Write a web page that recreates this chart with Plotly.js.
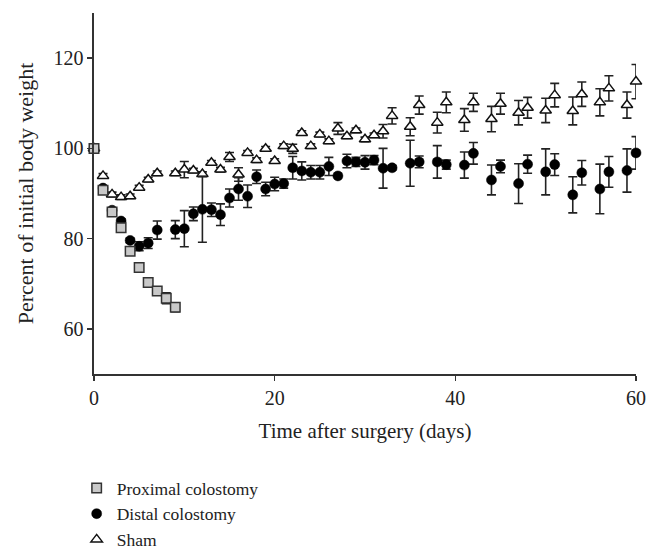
<!DOCTYPE html>
<html>
<head>
<meta charset="utf-8">
<script src="https://cdn.plot.ly/plotly-3.0.1.min.js"></script>
<style>
  html, body { margin: 0; padding: 0; background: #fff; }
  #chart { width: 658px; height: 551px; }
</style>
</head>
<body>
<div id="chart"></div>
<script>
// days after surgery
const proximalDays = [0, 1, 2, 3, 4, 5, 6, 7, 8, 9];
const proximalWeight = [100, 90.7, 85.9, 82.4, 77.2, 73.6, 70.3, 68.4, 66.8, 64.8];
const proximalErr = [0, 0.5, 0.5, 0.5, 0.5, 0.5, 0.5, 0.6, 1.2, 1.0];

const otherDays = [0, 1, 2, 3, 4, 5, 6, 7, 9, 10, 11, 12, 13, 14, 15, 16, 17, 18, 19, 20,
  21, 22, 23, 24, 25, 26, 27, 28, 29, 30, 31, 32, 33, 35, 36, 38, 39, 41, 42, 44,
  45, 47, 48, 50, 51, 53, 54, 56, 57, 59, 60];

const distalWeight = [100, 91.2, 86.3, 83.9, 79.6, 78.3, 79.0, 81.9, 82.0, 82.2, 85.5, 86.5, 86.4, 85.3, 89.0, 91.0, 89.4, 93.7, 91.0, 92.1,
  92.2, 95.7, 95.0, 94.7, 94.7, 96.0, 93.9, 97.2, 97.0, 96.9, 97.4, 95.6, 95.7, 96.7, 97.0, 97.0, 96.4, 96.3, 98.9, 93.0,
  96.0, 92.2, 96.5, 94.8, 96.4, 89.7, 94.6, 91.0, 94.8, 95.1, 99.0];
const distalErr = [0, 0.5, 0.5, 0.5, 0.5, 1.0, 1.2, 2.0, 2.0, 4.0, 1.5, 7.3, 1.5, 2.4, 2.0, 2.5, 2.5, 1.5, 1.5, 1.5,
  1.0, 2.5, 2.0, 1.5, 1.5, 2.0, 0, 1.5, 1.0, 1.5, 1.0, 4.4, 0.5, 5.1, 1.3, 3.6, 1.0, 2.9, 2.4, 3.3,
  1.4, 4.4, 2.0, 5.1, 2.4, 4.0, 2.7, 5.5, 3.4, 4.8, 3.6];

const shamWeight = [100, 93.9, 89.8, 89.2, 89.4, 91.3, 93.1, 94.5, 94.5, 95.3, 95.1, 94.3, 96.8, 95.3, 98.1, 94.2, 99.0, 97.4, 99.9, 97.2,
  100.5, 99.9, 103.4, 100.5, 103.1, 101.6, 104.4, 102.7, 104.0, 102.0, 102.9, 103.8, 107.2, 104.8, 109.6, 105.7, 110.2, 106.3, 110.2, 106.5,
  109.9, 107.9, 109.0, 108.4, 111.8, 108.3, 112.0, 110.2, 113.3, 109.6, 114.8];
const shamErr = [0, 0.5, 0.5, 0.5, 0.5, 0.5, 0.5, 0.5, 0.5, 1.8, 0.5, 0.5, 0.5, 0.5, 1.0, 1.5, 0.5, 0.5, 0.5, 0.5,
  0.5, 1.0, 0.5, 0.5, 0.5, 0.5, 1.3, 0.5, 0.5, 0.5, 0.5, 1.5, 1.8, 2.0, 2.0, 2.3, 2.3, 2.5, 2.0, 2.8,
  2.3, 2.7, 2.3, 2.7, 2.6, 3.1, 2.7, 3.0, 2.8, 2.9, 3.8];

const xTicks = [0, 20, 40, 60];
const yTicks = [60, 80, 100, 120];

const serif = 'Liberation Serif, Times New Roman, serif';

function errBars(arr) {
  return { type: 'data', array: arr, visible: true, color: '#222', thickness: 1.6, width: 4.5 };
}

// sham first so squares end up on top, legend reversed to match
const data = [
  {
    x: otherDays, y: shamWeight, name: 'Sham',
    type: 'scatter', mode: 'markers', cliponaxis: false,
    error_y: errBars(shamErr),
    marker: { symbol: 'triangle-up', size: 10, color: '#fff', line: { color: '#111', width: 1.5 } }
  },
  {
    x: otherDays, y: distalWeight, name: 'Distal colostomy',
    type: 'scatter', mode: 'markers', cliponaxis: false,
    error_y: errBars(distalErr),
    marker: { symbol: 'circle', size: 10, color: '#000', line: { color: '#000', width: 0.5 } }
  },
  {
    x: proximalDays, y: proximalWeight, name: 'Proximal colostomy',
    type: 'scatter', mode: 'markers', cliponaxis: false,
    error_y: errBars(proximalErr),
    marker: { symbol: 'square', size: 9.5, color: '#c9c9c9', line: { color: '#333', width: 1.5 } }
  }
];

const layout = {
  width: 658,
  height: 551,
  margin: { l: 94, r: 22, t: 13, b: 177, autoexpand: false },
  paper_bgcolor: '#fff',
  plot_bgcolor: '#fff',
  font: { family: serif, color: '#222', size: 20 },
  showlegend: true,
  legend: {
    traceorder: 'reversed',
    x: -0.032, xanchor: 'left',
    y: -0.266, yanchor: 'top',
    font: { family: serif, size: 17.5, color: '#222' },
    bgcolor: 'rgba(0,0,0,0)'
  },
  xaxis: {
    range: [0, 60],
    tickvals: xTicks,
    showgrid: false, zeroline: false,
    showline: true, linecolor: '#333', linewidth: 1.6,
    ticks: 'outside', ticklen: 5, tickwidth: 1.6, tickcolor: '#333',
    tickfont: { family: serif, size: 20, color: '#222' },
    title: { text: 'Time after surgery (days)', font: { family: serif, size: 21, color: '#222' }, standoff: 16 }
  },
  yaxis: {
    range: [50, 130],
    tickvals: yTicks,
    showgrid: false, zeroline: false,
    showline: true, linecolor: '#333', linewidth: 1.6,
    ticks: 'outside', ticklen: 5, tickwidth: 1.6, tickcolor: '#333',
    tickfont: { family: serif, size: 20, color: '#222' },
    title: { text: 'Percent of initial body weight', font: { family: serif, size: 22, color: '#222' }, standoff: 14 }
  }
};

Plotly.newPlot('chart', data, layout, { displayModeBar: false, staticPlot: true });
</script>
</body>
</html>
